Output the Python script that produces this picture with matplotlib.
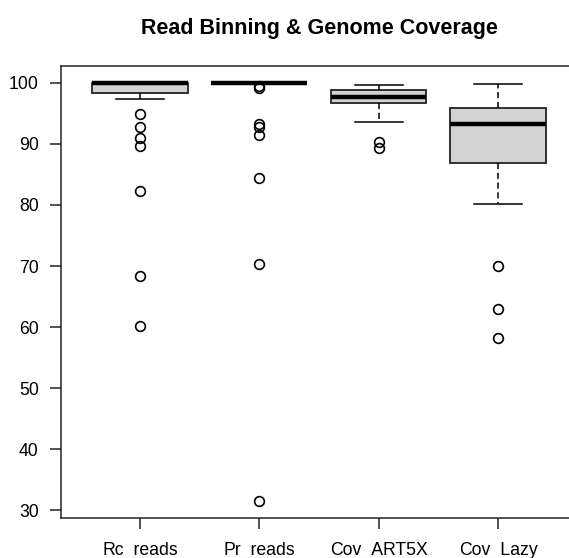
import matplotlib
matplotlib.use('Agg')
import matplotlib.pyplot as plt

# box stats (R style boxplot)
labels  = ['Rc_reads', 'Pr_reads', 'Cov_ART5X', 'Cov_Lazy']
q1      = [98.4, 100.0, 96.7, 86.8]
median  = [100.0, 100.0, 97.6, 93.2]
q3      = [100.0, 100.0, 98.8, 95.8]
wlo     = [97.3, 100.0, 93.6, 80.2]
whi     = [100.0, 100.0, 99.7, 99.8]
fliers  = [
    [94.9, 92.8, 90.9, 89.6, 82.2, 68.4, 60.2],
    [99.5, 99.1, 93.2, 92.7, 91.5, 84.4, 70.3, 31.5],
    [90.3, 89.3],
    [70.0, 63.0, 58.3],
]
yticks = [30, 40, 50, 60, 70, 80, 90, 100]

plt.rcParams['font.family'] = ['Liberation Sans', 'DejaVu Sans']

fig = plt.figure(figsize=(5.69, 5.58), dpi=100)
# plot region runs past the right edge of the picture, like the reference crop
ax = fig.add_axes([61 / 569, 1 - 518 / 558, 516 / 569, 452 / 558])

stats = []
for i in range(len(labels)):
    stats.append(dict(med=median[i], q1=q1[i], q3=q3[i],
                      whislo=wlo[i], whishi=whi[i], fliers=fliers[i]))

ax.bxp(stats, positions=range(1, len(labels) + 1), widths=0.8,
       patch_artist=True, showfliers=True,
       boxprops=dict(facecolor='#d3d3d3', edgecolor='#222222', linewidth=1.3),
       medianprops=dict(color='black', linewidth=3.2, solid_capstyle='butt'),
       whiskerprops=dict(color='black', linewidth=1.1, linestyle=(0, (4, 2.4))),
       capprops=dict(color='black', linewidth=1.1),
       capwidths=0.4,
       flierprops=dict(marker='o', markersize=7, markerfacecolor='none',
                       markeredgecolor='black', markeredgewidth=1.2))

ax.set_xlim(0.34, 4.66)
ax.set_ylim(28.76, 102.74)
ax.set_yticks(yticks)
ax.set_xticks(range(1, len(labels) + 1))
ax.set_xticklabels(labels)

for s in ax.spines.values():
    s.set_linewidth(1.1)
    s.set_color('#222222')
ax.spines['right'].set_visible(False)
ax.tick_params(axis='both', length=8, width=1.1, labelsize=12.7, color='#222222')
ax.tick_params(axis='y', pad=8)
ax.tick_params(axis='x', pad=9)

fig.text(319.5 / 569, 1 - 34 / 558, 'Read Binning & Genome Coverage',
         ha='center', va='baseline', fontsize=15.5, fontweight='bold')

fig.savefig('out.png', dpi=100)
